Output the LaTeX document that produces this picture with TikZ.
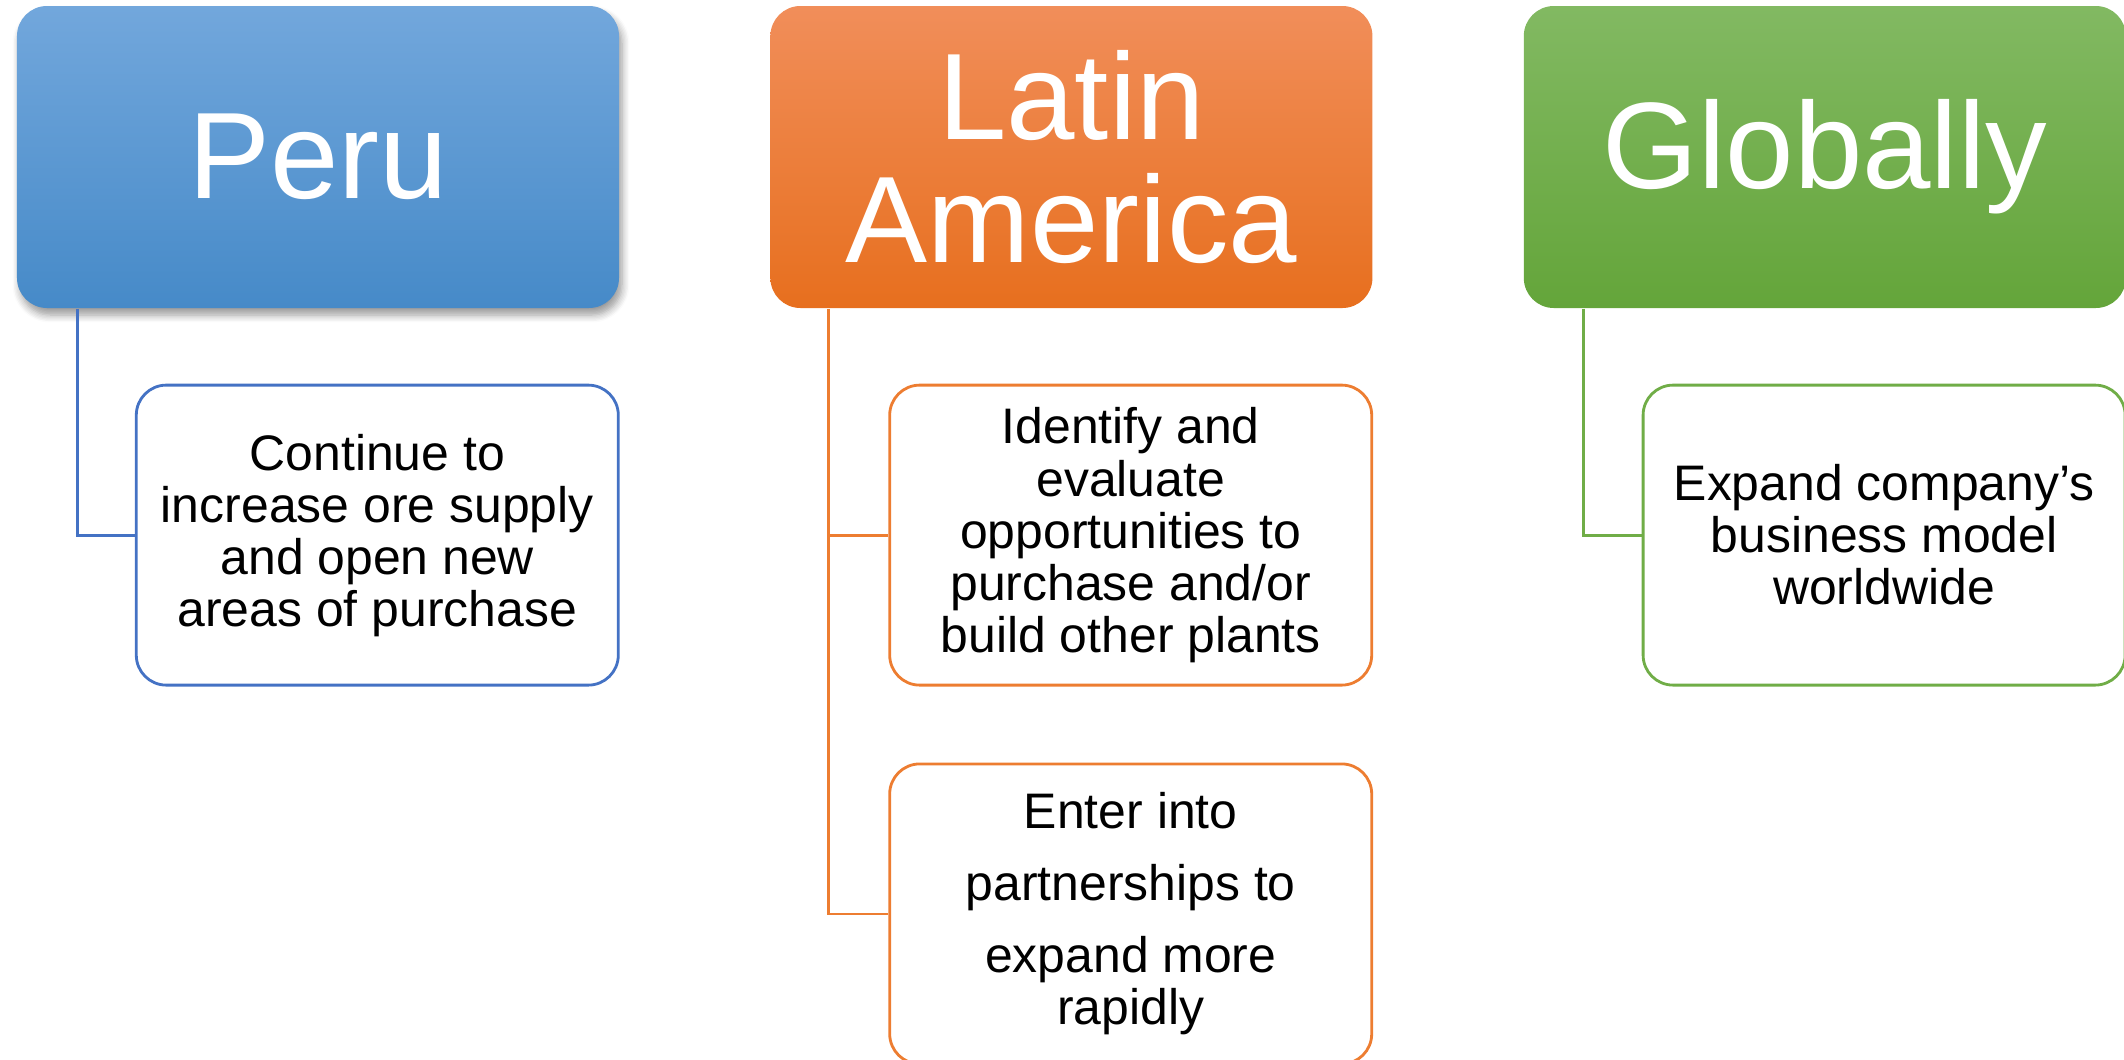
\documentclass[tikz,border=0pt]{standalone}
\usepackage{fontspec}
\setmainfont{Liberation Sans}
\usetikzlibrary{positioning, shadows.blur}
\definecolor{perublue}{HTML}{4472C4}
\definecolor{latorange}{HTML}{ED7D31}
\definecolor{globgreen}{HTML}{70AD47}
\tikzset{
  head/.style={rounded corners=0.3cm, minimum width=6.02cm, minimum height=3.02cm,
    inner sep=0pt, align=center, text=white, font=\fontsize{35}{35}\selectfont},
  goal/.style={draw=#1, line width=0.8pt, fill=white, rounded corners=0.3cm,
    minimum width=4.82cm, minimum height=3cm, inner sep=0pt, align=center,
    font=\fontsize{14.2}{14.8}\selectfont},
  branch/.style={draw=#1, line width=0.8pt}
}

\begin{document}
\begin{tikzpicture}
    \useasboundingbox (0,0) rectangle (21.24,-10.59);
    \node[head, top color={rgb,255:red,114;green,167;blue,220}, bottom color={rgb,255:red,70;green,138;blue,200},
      blur shadow={shadow xshift=0.03cm, shadow yshift=-0.07cm, shadow blur steps=6, shadow opacity=40}]
      (peru) at (3.18,-1.57) {Peru};
    \node[head, right=1.5cm of peru, top color={rgb,255:red,241;green,142;blue,90}, bottom color={rgb,255:red,231;green,111;blue,30}]
      (latin) {Latin\\America};
    \node[head, right=1.5cm of latin, top color={rgb,255:red,130;green,185;blue,98}, bottom color={rgb,255:red,100;green,165;blue,58}]
      (global) {Globally};

    \node[goal=perublue, below=0.75cm of peru.south east, anchor=north east] (peru1)
      {Continue to\\increase ore supply\\and open new\\areas of purchase};
    \node[goal=latorange, below=0.75cm of latin.south east, anchor=north east] (latin1)
      {Identify and\\evaluate\\opportunities to\\purchase and/or\\build other plants};
    \node[goal=latorange, below=0.76cm of latin1] (latin2)
      {Enter into\\[5.7pt]partnerships to\\[5.7pt]expand more\\rapidly};
    \node[goal=globgreen, below=0.75cm of global.south east, anchor=north east] (global1)
      {Expand company’s\\business model\\worldwide};

    \draw[branch=perublue] ([xshift=6.1mm]peru.south west) |- (peru1.west);
    \draw[branch=latorange] ([xshift=5.9mm]latin.south west) |- (latin1.west)
      ([xshift=5.9mm]latin.south west) |- (latin2.west);
    \draw[branch=globgreen] ([xshift=6mm]global.south west) |- (global1.west);
\end{tikzpicture}
\end{document}
